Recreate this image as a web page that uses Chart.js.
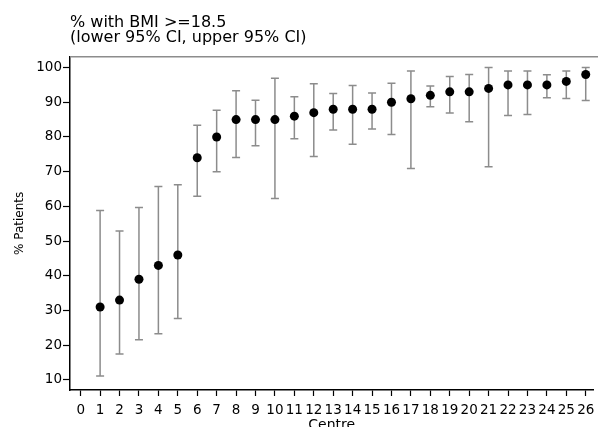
<!DOCTYPE html>
<html>
<head>
<meta charset="utf-8">
<script src="https://cdn.jsdelivr.net/npm/chart.js@4"></script>
<style>
  body { margin: 0; background: #fff; }
  canvas { display: block; }
</style>
</head>
<body>
<canvas id="bmi-chart" width="598" height="427"></canvas>
<script>
// Centres and their % with BMI >= 18.5, with 95% CI
const centres = [1, 2, 3, 4, 5, 6, 7, 8, 9, 10, 11, 12, 13, 14, 15, 16, 17, 18, 19, 20, 21, 22, 23, 24, 25, 26];
const pct     = [31, 33, 39, 43, 46, 74, 80, 85, 85, 85, 86, 87, 88, 88, 88, 90, 91, 92, 93, 93, 94, 95, 95, 95, 96, 98];
const lowerCI = [11.1, 17.5, 21.6, 23.3, 27.7, 62.9, 70, 74.1, 77.5, 62.3, 79.5, 74.4, 82, 77.9, 82.3, 80.7, 70.9, 88.7, 86.9, 84.4, 71.4, 86.2, 86.5, 91.3, 91.1, 90.5];
const upperCI = [58.8, 52.9, 59.7, 65.7, 66.2, 83.4, 87.7, 93.3, 90.6, 96.9, 91.6, 95.3, 92.5, 94.8, 92.7, 95.5, 99, 94.7, 97.4, 98, 100, 99, 99, 97.9, 99, 100];
const xTicks = [0, 1, 2, 3, 4, 5, 6, 7, 8, 9, 10, 11, 12, 13, 14, 15, 16, 17, 18, 19, 20, 21, 22, 23, 24, 25, 26];
const yTicks = [10, 20, 30, 40, 50, 60, 70, 80, 90, 100];

const FONT = '"DejaVu Sans", Verdana, sans-serif';

// Draw the CI whiskers under the points, using the chart scales
const errorBars = {
    id: 'errorBars',
    beforeDatasetsDraw(chart) {
        const { ctx, scales: { x, y } } = chart;
        ctx.save();
        ctx.strokeStyle = '#8c8c8c';
        ctx.lineWidth = 1.5;
        const cap = 4;
        centres.forEach((c, i) => {
            const px = x.getPixelForValue(c);
            const lo = y.getPixelForValue(lowerCI[i]);
            const hi = y.getPixelForValue(upperCI[i]);
            ctx.beginPath();
            ctx.moveTo(px, lo);
            ctx.lineTo(px, hi);
            ctx.moveTo(px - cap, lo);
            ctx.lineTo(px + cap, lo);
            ctx.moveTo(px - cap, hi);
            ctx.lineTo(px + cap, hi);
            ctx.stroke();
        });
        ctx.restore();
    }
};

// Grey line along the top of the plot region
const topFrame = {
    id: 'topFrame',
    afterDraw(chart) {
        const { ctx, chartArea } = chart;
        ctx.save();
        ctx.strokeStyle = '#8c8c8c';
        ctx.lineWidth = 1.5;
        ctx.beginPath();
        ctx.moveTo(chartArea.left, chartArea.top);
        ctx.lineTo(chart.width, chartArea.top);
        ctx.stroke();
        ctx.restore();
    }
};

const ctx = document.getElementById('bmi-chart').getContext('2d');
new Chart(ctx, {
    type: 'scatter',
    data: {
        datasets: [{
            data: centres.map((c, i) => ({ x: c, y: pct[i] })),
            pointRadius: 4.5,
            pointHoverRadius: 4.5,
            pointBackgroundColor: '#000',
            pointBorderWidth: 0
        }]
    },
    options: {
        responsive: false,
        animation: false,
        layout: { padding: 0 },
        plugins: {
            legend: { display: false },
            tooltip: { enabled: false },
            title: {
                display: true,
                fullSize: false,
                align: 'start',
                text: ['% with BMI >=18.5', '(lower 95% CI, upper 95% CI)'],
                color: '#000',
                font: { family: FONT, size: 16, weight: 'normal', lineHeight: 0.9 },
                padding: { top: 16, bottom: 12 }
            }
        },
        scales: {
            x: {
                type: 'linear',
                min: -0.55,
                max: 26.4,
                afterBuildTicks: (s) => { s.ticks = xTicks.map(v => ({ value: v })); },
                afterFit: (s) => { s.height = 37; s.paddingLeft = 0; s.paddingRight = 0; },
                grid: { drawOnChartArea: false, color: '#000', tickLength: 6, tickWidth: 1.2 },
                border: { color: '#000', width: 1.5 },
                ticks: {
                    color: '#000', padding: 6, maxRotation: 0, autoSkip: false,
                    font: { family: FONT, size: 13.5 }
                },
                title: {
                    display: true, text: 'Centre', color: '#000',
                    font: { family: FONT, size: 14, lineHeight: 1 },
                    padding: { top: 0, bottom: -5 }
                }
            },
            y: {
                min: 7.1,
                max: 103.1,
                afterBuildTicks: (s) => { s.ticks = yTicks.map(v => ({ value: v })); },
                afterFit: (s) => { s.width = 70; s.paddingTop = 0; s.paddingBottom = 0; },
                grid: { drawOnChartArea: false, color: '#000', tickLength: 7, tickWidth: 1.2 },
                border: { color: '#000', width: 1.5 },
                ticks: {
                    color: '#000', padding: 1,
                    font: { family: FONT, size: 13.5 }
                },
                title: {
                    display: true, text: '% Patients', color: '#000',
                    font: { family: FONT, size: 12, lineHeight: 1 },
                    padding: { top: 14, bottom: 0 }
                }
            }
        }
    },
    plugins: [errorBars, topFrame]
});
</script>
</body>
</html>
